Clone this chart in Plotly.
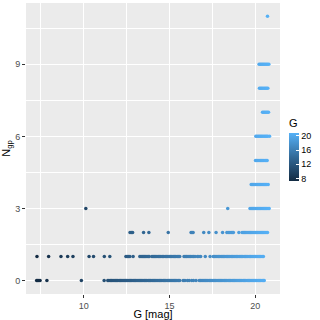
import plotly.graph_objects as go

# G magnitude of each point, grouped by N_gp row
row0 = [7.25, 7.31, 7.38, 7.45, 7.85, 9.86, 11.19, 11.4, 11.47, 11.55, 11.62, 11.7, 11.77,
        11.84, 11.92, 11.99, 12.07, 12.14, 12.22, 12.29, 12.36, 12.44, 12.51, 12.58, 12.66,
        12.73, 12.8, 12.88, 12.95, 13.02, 13.1, 13.17, 13.24, 13.32, 13.39, 13.46, 13.54,
        13.61, 13.68, 13.76, 13.83, 13.9, 13.98, 14.05, 14.12, 14.2, 14.27, 14.34, 14.42,
        14.49, 14.56, 14.64, 14.71, 14.78, 14.86, 14.93, 15.0, 15.08, 15.15, 15.22, 15.3,
        15.37, 15.44, 15.52, 15.6, 15.8, 15.9, 16.05, 16.15, 16.3, 16.4, 16.55, 16.74,
        16.81, 16.89, 16.96, 17.03, 17.11, 17.18, 17.25, 17.33, 17.4, 17.47, 17.55, 17.62,
        17.69, 17.77, 17.84, 17.91, 17.99, 18.06, 18.13, 18.21, 18.28, 18.35, 18.43, 18.5,
        18.57, 18.65, 18.72, 18.79, 18.87, 18.94, 19.01, 19.09, 19.16, 19.23, 19.31, 19.38,
        19.45, 19.53, 19.6, 19.67, 19.75, 19.82, 19.89, 19.97, 20.04, 20.11, 20.19, 20.26,
        20.33, 20.41, 20.48, 20.53]
row1 = [7.27, 7.95, 8.67, 9.06, 9.37, 10.31, 10.57, 11.2, 11.52, 12.46, 12.53, 12.6, 12.69,
        12.88, 13.27, 13.34, 13.41, 13.48, 13.55, 13.62, 13.69, 13.76, 13.82, 13.98, 14.05,
        14.12, 14.2, 14.27, 14.35, 14.43, 14.5, 14.58, 14.66, 14.75, 14.84, 14.91, 14.99,
        15.07, 15.14, 15.22, 15.3, 15.37, 15.45, 15.52, 15.6, 15.85, 15.92, 16.0, 16.08,
        16.15, 16.24, 16.32, 16.4, 16.49, 16.63, 16.72, 16.82, 17.09, 17.37, 17.56, 17.63,
        17.71, 17.78, 17.86, 17.93, 18.01, 18.08, 18.16, 18.23, 18.31, 18.38, 18.46, 18.53,
        18.61, 18.68, 18.76, 18.83, 18.91, 18.98, 19.06, 19.13, 19.21, 19.28, 19.36, 19.43,
        19.51, 19.58, 19.66, 19.73, 19.81, 19.88, 19.96, 20.03, 20.11, 20.18, 20.26, 20.33,
        20.41, 20.48]
row2 = [12.7, 12.78, 12.85, 13.49, 13.8, 14.93, 16.26, 16.32, 16.38, 17.0, 17.3, 17.72,
        18.1, 18.35, 18.43, 18.52, 18.6, 18.67, 18.73, 19.05, 19.24, 19.31, 19.38, 19.45,
        19.52, 19.59, 19.66, 19.73, 19.8, 19.87, 19.94, 20.01, 20.08, 20.15, 20.22, 20.29,
        20.36, 20.43, 20.5, 20.57, 20.64, 20.72]
row3 = [10.12, 18.4, 19.7, 19.77, 19.84, 19.91, 19.98, 20.05, 20.12, 20.19, 20.26, 20.33,
        20.4, 20.47, 20.54, 20.61, 20.68, 20.75, 20.82]
row4 = [19.77, 19.84, 19.91, 19.98, 20.05, 20.12, 20.19, 20.26, 20.33, 20.4, 20.47, 20.54,
        20.61, 20.68, 20.76]
row5 = [20.02, 20.09, 20.16, 20.23, 20.3, 20.37, 20.44, 20.51, 20.58, 20.64, 20.7]
row6 = [20.04, 20.11, 20.18, 20.25, 20.32, 20.39, 20.46, 20.53, 20.6, 20.67, 20.74, 20.84]
row7 = [20.43, 20.5, 20.57, 20.64, 20.71, 20.78]
row8 = [20.25, 20.32, 20.39, 20.46, 20.53, 20.6, 20.67, 20.74]
row9 = [20.23, 20.3, 20.37, 20.44, 20.51, 20.58, 20.65, 20.72, 20.8]
row11 = [20.72]

rows = {0: row0, 1: row1, 2: row2, 3: row3, 4: row4, 5: row5, 6: row6,
        7: row7, 8: row8, 9: row9, 11: row11}

g_vals = []
n_gp = []
for n, gs in rows.items():
    g_vals.extend(gs)
    n_gp.extend([n] * len(gs))

colorbar_ticks = [8, 12, 16, 20]

fig = go.Figure()
fig.add_trace(go.Scatter(
    x=g_vals,
    y=n_gp,
    mode="markers",
    marker=dict(
        size=3.5,
        color=g_vals,
        cmin=min(g_vals),
        cmax=max(g_vals),
        colorscale=[[0, "#132B43"], [0.5, "#336A98"], [1, "#56B1F7"]],
        line=dict(width=0),
        colorbar=dict(
            title=dict(text="G", side="top", font=dict(size=11, color="black")),
            tickvals=colorbar_ticks,
            ticks="inside",
            tickcolor="white",
            ticklen=3,
            tickfont=dict(size=9, color="black"),
            thickness=10,
            lenmode="pixels",
            len=65,
            x=1.035,
            xanchor="left",
            y=0.5,
            yanchor="middle",
            outlinewidth=0,
            xpad=0,
            ypad=0,
        ),
    ),
    showlegend=False,
))

axis_common = dict(
    showgrid=True,
    gridcolor="white",
    gridwidth=1,
    zeroline=False,
    ticks="outside",
    ticklen=3,
    tickcolor="#333333",
    tickfont=dict(size=9, color="#4D4D4D"),
    showline=False,
    automargin=False,
)

fig.update_xaxes(
    **axis_common,
    range=[6.63, 21.45],
    tick0=0,
    dtick=5,
    minor=dict(showgrid=True, gridcolor="white", gridwidth=0.5, tick0=0, dtick=2.5),
    title=dict(text="G [mag]", font=dict(size=11, color="black"), standoff=0),
)
fig.update_yaxes(
    **axis_common,
    range=[-0.56, 11.55],
    tick0=0,
    dtick=3,
    minor=dict(showgrid=True, gridcolor="white", gridwidth=0.5, tick0=0, dtick=1.5),
    title=dict(text="N<sub>gp</sub>", font=dict(size=11, color="black"), standoff=3),
)

fig.update_layout(
    width=320,
    height=320,
    margin=dict(l=26, r=40, t=3, b=26, autoexpand=False),
    plot_bgcolor="#EBEBEB",
    paper_bgcolor="white",
    font=dict(family="Liberation Sans, Arial, sans-serif"),
)

# page body has a default 8px margin; drop it so the figure fills the window
fig.write_html(
    "out.html",
    config={"displayModeBar": False},
    post_script="document.body.style.margin = '0';",
)
